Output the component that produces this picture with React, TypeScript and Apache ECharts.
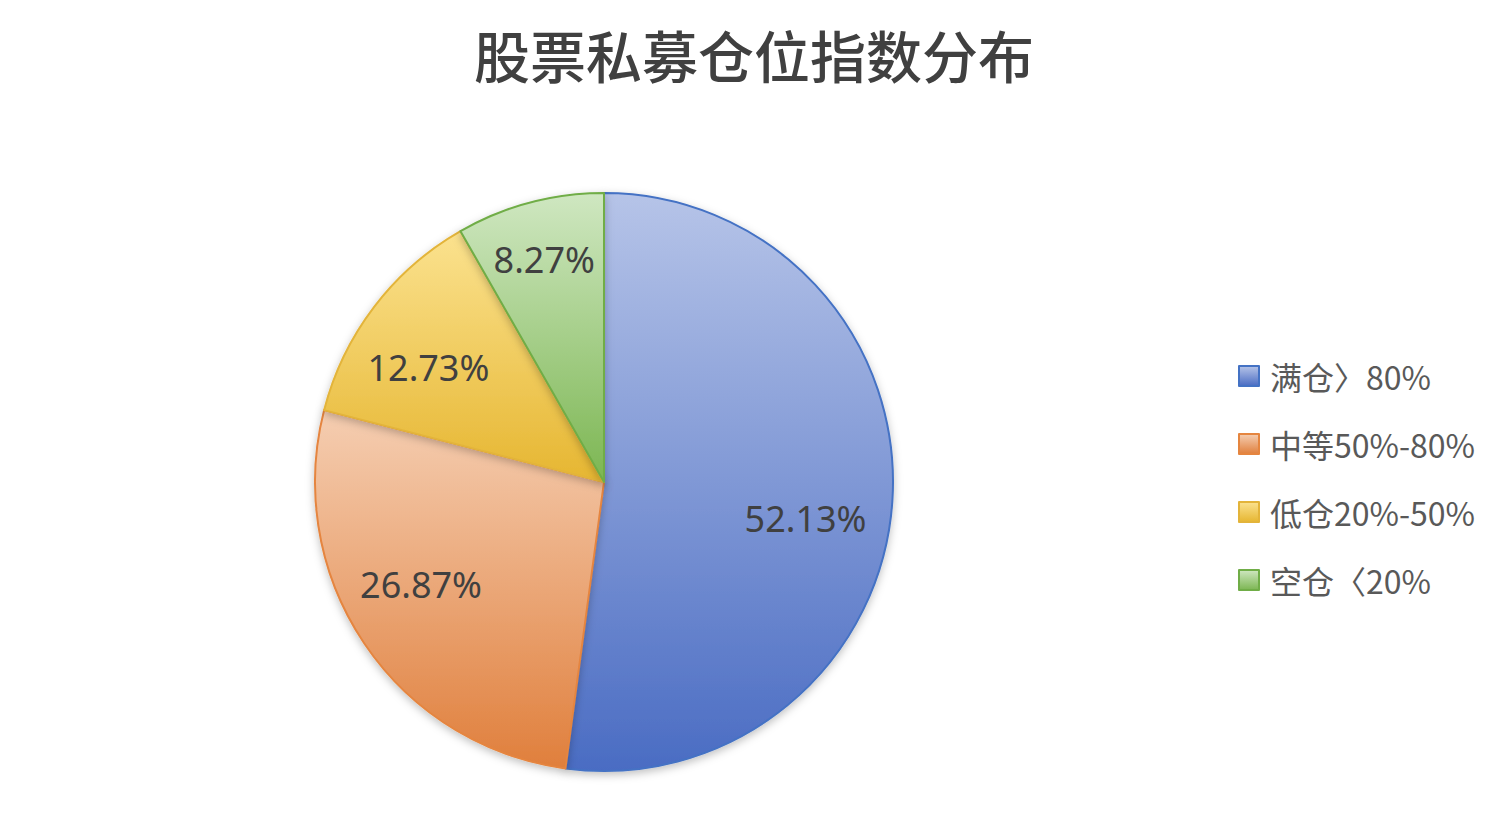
import React, { useEffect, useRef } from 'react';
import * as echarts from 'echarts';

const titleText = '股票私募仓位指数分布';
const categories = ['满仓〉80%', '中等50%-80%', '低仓20%-50%', '空仓〈20%'];
const values = [52.13, 26.87, 12.73, 8.27];
// [top, bottom, border]
const palette = [
  ['#b6c4e8', '#4a6cc3', '#4472c4'],
  ['#f5ceb2', '#e07f3c', '#e5853f'],
  ['#fbe28f', '#e6b631', '#e3b43a'],
  ['#cfe7c1', '#7cb652', '#70ad47'],
];
// nudges [dx, dy] for the percentage labels, like Excel's best fit
const labelNudge = [
  [-15, 22],
  [-3, -19],
  [-3, 17],
  [-4, -13],
];

const grad = (top: string, bottom: string) =>
  new echarts.graphic.LinearGradient(0, 0, 0, 1, [
    { offset: 0, color: top },
    { offset: 1, color: bottom },
  ]);

export default function App() {
  const ref = useRef<HTMLDivElement>(null);
  useEffect(() => {
    if (!ref.current) return;
    const chart = echarts.init(ref.current, null, { renderer: 'svg' });
    const font = "'Noto Sans CJK SC', 'Noto Sans', sans-serif";
    const data = categories.map((name, i) => ({
      name,
      value: values[i],
      itemStyle: {
        color: grad(palette[i][0], palette[i][1]),
        borderColor: palette[i][2],
        borderWidth: 2,
      },
    }));
    chart.setOption({
      animation: false,
      backgroundColor: '#ffffff',
      title: {
        text: titleText,
        left: 'center',
        top: 20,
        textStyle: { fontFamily: font, fontSize: 56, fontWeight: 500, color: '#404040' },
      },
      legend: {
        orient: 'vertical',
        left: 1233,
        top: 355,
        data: categories,
        icon: 'rect',
        itemWidth: 20,
        itemHeight: 20,
        itemGap: 36,
        textStyle: { fontFamily: font, fontSize: 32, color: '#595959', padding: [0, 0, 0, 6] },
      },
      series: [
        {
          type: 'pie',
          center: [604, 482],
          radius: 289,
          startAngle: 90,
          data,
          label: { show: false },
          labelLine: { show: false },
          emphasis: { disabled: true },
          itemStyle: { shadowBlur: 8, shadowColor: 'rgba(0,0,0,0.25)', shadowOffsetY: 3 },
        },
        {
          type: 'pie',
          center: [604, 482],
          radius: 428,
          startAngle: 90,
          silent: true,
          legendHoverLink: false,
          data: categories.map((name, i) => ({ name: name + ' ', value: values[i] })),
          itemStyle: { color: 'rgba(0,0,0,0)', borderWidth: 0 },
          label: {
            show: true,
            position: 'inner',
            formatter: (p: any) => p.value.toFixed(2) + '%',
            fontFamily: "'Noto Sans', sans-serif",
            fontSize: 36,
            color: '#404040',
          },
          labelLayout: (p: any) => ({ dx: labelNudge[p.dataIndex][0], dy: labelNudge[p.dataIndex][1] }),
          labelLine: { show: false },
          emphasis: { disabled: true },
          z: 3,
        },
      ],
    });
    return () => chart.dispose();
  }, []);
  return <div ref={ref} style={{ position: 'fixed', left: 0, top: 0, width: 1508, height: 834 }} />;
}
